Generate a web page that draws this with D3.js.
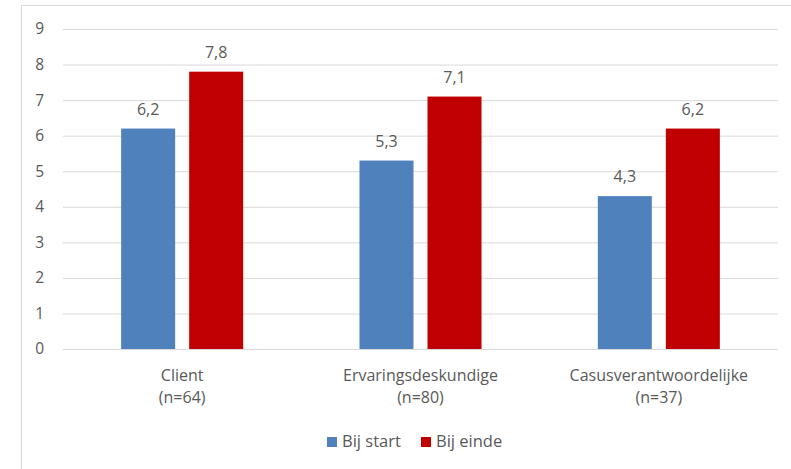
<!DOCTYPE html>
<html>
<head>
    <title>bar chart</title>
    <script type="text/javascript" src="https://cdn.jsdelivr.net/npm/d3@7/dist/d3.min.js"></script>
    <style type="text/css">
        body { margin: 0; background: #fff; }
        svg { display: block; font-family: "Open Sans", sans-serif; }
        text { fill: #595959; }
    </style>
</head>
<body>
    <svg id="chart" width="791" height="469"></svg>
</body>

<script type="text/javascript">

    let categories = ["Client", "Ervaringsdeskundige", "Casusverantwoordelijke"];
    let counts = ["(n=64)", "(n=80)", "(n=37)"];
    let seriesNames = ["Bij start", "Bij einde"];
    let startValues = [6.2, 5.3, 4.3];
    let endValues = [7.8, 7.1, 6.2];
    let yTicks = [0, 1, 2, 3, 4, 5, 6, 7, 8, 9];
    let colors = ["#4F81BD", "#C00000"];

    let svg = d3.select("#chart");
    let plotLeft = 63, plotRight = 778, plotTop = 29, plotBottom = 349;

    // outer frame of the chart (only left and top show in the picture)
    svg.append("path")
        .attr("d", "M21.5,469V5.5H791")
        .attr("fill", "none")
        .attr("stroke", "#d9d9d9");

    let y = d3.scaleLinear().domain([0, 9]).range([plotBottom, plotTop]);
    let x0 = d3.scaleBand().domain(categories).range([plotLeft, plotRight])
                .paddingInner(0.488).paddingOuter(0.244);
    let x1 = d3.scaleBand().domain(seriesNames).range([0, x0.bandwidth()])
                .paddingInner(0.206);

    let yAxis = svg.append("g")
        .attr("transform", "translate(" + plotLeft + ",0)")
        .call(d3.axisLeft(y).tickValues(yTicks).tickSize(-(plotRight - plotLeft)).tickPadding(19));
    yAxis.select(".domain").remove();
    yAxis.selectAll(".tick line").attr("stroke", "#d9d9d9");
    yAxis.selectAll(".tick text").attr("font-size", 15.5).style("font-family", "Open Sans").attr("fill", "#595959");

    let rows = categories.map(function(c, i) {
        return { cat: c, vals: [startValues[i], endValues[i]] };
    });

    let groups = svg.selectAll("g.grp").data(rows).enter().append("g")
        .attr("class", "grp")
        .attr("transform", function(d) { return "translate(" + x0(d.cat) + ",0)"; });

    groups.selectAll("rect").data(function(d) {
        return d.vals.map(function(v, j) { return { s: seriesNames[j], v: v, j: j }; });
    }).enter().append("rect")
        .attr("x", function(d) { return x1(d.s); })
        .attr("y", function(d) { return y(d.v); })
        .attr("width", x1.bandwidth())
        .attr("height", function(d) { return y(0) - y(d.v); })
        .attr("fill", function(d) { return colors[d.j]; });

    groups.selectAll("text.val").data(function(d) {
        return d.vals.map(function(v, j) { return { s: seriesNames[j], v: v }; });
    }).enter().append("text")
        .attr("class", "val")
        .attr("x", function(d) { return x1(d.s) + x1.bandwidth() / 2; })
        .attr("y", function(d) { return y(d.v) - 14; })
        .attr("text-anchor", "middle")
        .attr("font-size", 16)
        .text(function(d) { return d.v.toFixed(1).replace(".", ","); });

    // category labels, two lines
    categories.forEach(function(c, i) {
        let cx = x0(c) + x0.bandwidth() / 2;
        svg.append("text").attr("x", cx).attr("y", 381)
            .attr("text-anchor", "middle").attr("font-size", 16).text(c);
        svg.append("text").attr("x", cx).attr("y", 403)
            .attr("text-anchor", "middle").attr("font-size", 16).text(counts[i]);
    });

    // legend
    let legendX = [327, 421];
    seriesNames.forEach(function(name, j) {
        svg.append("rect").attr("x", legendX[j]).attr("y", 437)
            .attr("width", 10).attr("height", 10).attr("fill", colors[j]);
        svg.append("text").attr("x", legendX[j] + 15).attr("y", 447)
            .attr("font-size", 16.5).text(name);
    });
</script>

</html>
